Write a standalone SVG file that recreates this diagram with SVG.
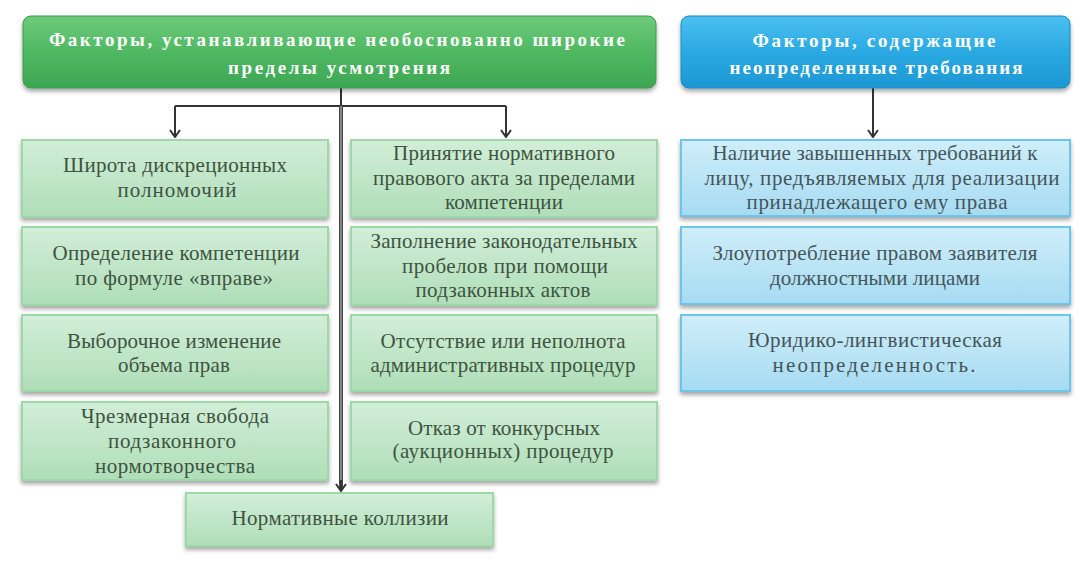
<svg xmlns="http://www.w3.org/2000/svg" width="1091" height="568" viewBox="0 0 1091 568">
<defs>
  <linearGradient id="gHead" x1="0" y1="0" x2="0" y2="1">
    <stop offset="0" stop-color="#6ccb79"/>
    <stop offset="0.5" stop-color="#4fb862"/>
    <stop offset="1" stop-color="#3da653"/>
  </linearGradient>
  <linearGradient id="bHead" x1="0" y1="0" x2="0" y2="1">
    <stop offset="0" stop-color="#4cc0f0"/>
    <stop offset="0.5" stop-color="#2aa9e2"/>
    <stop offset="1" stop-color="#1c97d3"/>
  </linearGradient>
  <linearGradient id="gBox" x1="0" y1="0" x2="0" y2="1">
    <stop offset="0" stop-color="#d2eed8"/>
    <stop offset="1" stop-color="#afdeb8"/>
  </linearGradient>
  <linearGradient id="bBox" x1="0" y1="0" x2="0" y2="1">
    <stop offset="0" stop-color="#d0eefa"/>
    <stop offset="1" stop-color="#a6dbf2"/>
  </linearGradient>
  <filter id="sh" x="-5%" y="-10%" width="110%" height="130%">
    <feGaussianBlur in="SourceAlpha" stdDeviation="2"/>
    <feOffset dx="0" dy="3"/>
    <feComponentTransfer><feFuncA type="linear" slope="0.35"/></feComponentTransfer>
    <feMerge><feMergeNode/><feMergeNode in="SourceGraphic"/></feMerge>
  </filter>
  <marker id="arrD" viewBox="0 0 12 12" refX="6" refY="11" markerWidth="12" markerHeight="12" markerUnits="userSpaceOnUse" orient="0">
    <path d="M1,4 L6,11 L11,4" fill="none" stroke="#333" stroke-width="2"/>
  </marker>
</defs>
<style>
  .hdrG { fill: url(#gHead); stroke: #3c9a4e; stroke-width: 1; filter: url(#sh); }
  .hdrB { fill: url(#bHead); stroke: #1b8cc4; stroke-width: 1; filter: url(#sh); }
  .boxG { fill: url(#gBox); stroke: #9dd8a7; stroke-width: 2; filter: url(#sh); }
  .boxB { fill: url(#bBox); stroke: #6cc6ec; stroke-width: 2; filter: url(#sh); }
  .conn { fill: none; stroke: #333; stroke-width: 2; }
</style>
<rect width="1091" height="568" fill="#ffffff"/>

<g id="connectors">
  <path class="conn" d="M341,88 V106"/>
  <path class="conn" d="M175,106 H506"/>
  <path class="conn" d="M175,106 V137" marker-end="url(#arrD)"/>
  <path class="conn" d="M506,106 V137" marker-end="url(#arrD)"/>
  <path d="M341,106 V489" fill="none" stroke="#444" stroke-width="4"/>
  <path d="M341,106 V486" fill="none" stroke="#9a9a9a" stroke-width="1.5"/>
  <path class="conn" d="M341,480 V491" marker-end="url(#arrD)"/>
  <path class="conn" d="M873,88 V137" marker-end="url(#arrD)"/>
</g>

<g id="header-green">
  <rect class="hdrG" x="23" y="16" width="633" height="72" rx="8"/>
  <text font-family="Liberation Serif, Times New Roman, serif" font-size="19" font-weight="bold" fill="#ffffff" text-anchor="middle" x="337" y="46" textLength="576" lengthAdjust="spacing">Факторы, устанавливающие необоснованно широкие</text>
  <text font-family="Liberation Serif, Times New Roman, serif" font-size="19" font-weight="bold" fill="#ffffff" text-anchor="middle" x="339" y="74" textLength="222" lengthAdjust="spacing">пределы усмотрения</text>
</g>
<g id="header-blue">
  <rect class="hdrB" x="681" y="16" width="389" height="72" rx="8"/>
  <text font-family="Liberation Serif, Times New Roman, serif" font-size="19" font-weight="bold" fill="#ffffff" text-anchor="middle" x="874" y="47" textLength="243" lengthAdjust="spacing">Факторы, содержащие</text>
  <text font-family="Liberation Serif, Times New Roman, serif" font-size="19" font-weight="bold" fill="#ffffff" text-anchor="middle" x="876" y="74" textLength="293" lengthAdjust="spacing">неопределенные требования</text>
</g>

<g id="g-l1">
  <rect class="boxG" x="22" y="140" width="306" height="77"/>
  <text font-family="Liberation Serif, Times New Roman, serif" font-size="21" fill="#3d533f" text-anchor="middle" x="175" y="172" textLength="224" lengthAdjust="spacing">Широта дискреционных</text>
  <text font-family="Liberation Serif, Times New Roman, serif" font-size="21" fill="#3d533f" text-anchor="middle" x="177" y="197" textLength="119" lengthAdjust="spacing">полномочий</text>
</g>
<g id="g-l2">
  <rect class="boxG" x="22" y="227" width="306" height="78"/>
  <text font-family="Liberation Serif, Times New Roman, serif" font-size="21" fill="#3d533f" text-anchor="middle" x="176" y="260" textLength="247" lengthAdjust="spacing">Определение компетенции</text>
  <text font-family="Liberation Serif, Times New Roman, serif" font-size="21" fill="#3d533f" text-anchor="middle" x="174" y="285" textLength="198" lengthAdjust="spacing">по формуле «вправе»</text>
</g>
<g id="g-l3">
  <rect class="boxG" x="22" y="315" width="306" height="76"/>
  <text font-family="Liberation Serif, Times New Roman, serif" font-size="21" fill="#3d533f" text-anchor="middle" x="174" y="348" textLength="214" lengthAdjust="spacing">Выборочное изменение</text>
  <text font-family="Liberation Serif, Times New Roman, serif" font-size="21" fill="#3d533f" text-anchor="middle" x="174" y="372" textLength="112" lengthAdjust="spacing">объема прав</text>
</g>
<g id="g-l4">
  <rect class="boxG" x="22" y="402" width="306" height="78"/>
  <text font-family="Liberation Serif, Times New Roman, serif" font-size="21" fill="#3d533f" text-anchor="middle" x="175" y="423" textLength="188" lengthAdjust="spacing">Чрезмерная свобода</text>
  <text font-family="Liberation Serif, Times New Roman, serif" font-size="21" fill="#3d533f" text-anchor="middle" x="172" y="448" textLength="128" lengthAdjust="spacing">подзаконного</text>
  <text font-family="Liberation Serif, Times New Roman, serif" font-size="21" fill="#3d533f" text-anchor="middle" x="175" y="473" textLength="160" lengthAdjust="spacing">нормотворчества</text>
</g>

<g id="g-r1">
  <rect class="boxG" x="351" y="140" width="306" height="77"/>
  <text font-family="Liberation Serif, Times New Roman, serif" font-size="21" fill="#3d533f" text-anchor="middle" x="504" y="160" textLength="222" lengthAdjust="spacing">Принятие нормативного</text>
  <text font-family="Liberation Serif, Times New Roman, serif" font-size="21" fill="#3d533f" text-anchor="middle" x="504" y="185" textLength="262" lengthAdjust="spacing">правового акта за пределами</text>
  <text font-family="Liberation Serif, Times New Roman, serif" font-size="21" fill="#3d533f" text-anchor="middle" x="504" y="209" textLength="118" lengthAdjust="spacing">компетенции</text>
</g>
<g id="g-r2">
  <rect class="boxG" x="351" y="227" width="306" height="78"/>
  <text font-family="Liberation Serif, Times New Roman, serif" font-size="21" fill="#3d533f" text-anchor="middle" x="504" y="248" textLength="267" lengthAdjust="spacing">Заполнение законодательных</text>
  <text font-family="Liberation Serif, Times New Roman, serif" font-size="21" fill="#3d533f" text-anchor="middle" x="505" y="273" textLength="206" lengthAdjust="spacing">пробелов при помощи</text>
  <text font-family="Liberation Serif, Times New Roman, serif" font-size="21" fill="#3d533f" text-anchor="middle" x="503" y="297" textLength="175" lengthAdjust="spacing">подзаконных актов</text>
</g>
<g id="g-r3">
  <rect class="boxG" x="351" y="315" width="306" height="76"/>
  <text font-family="Liberation Serif, Times New Roman, serif" font-size="21" fill="#3d533f" text-anchor="middle" x="503" y="348" textLength="245" lengthAdjust="spacing">Отсутствие или неполнота</text>
  <text font-family="Liberation Serif, Times New Roman, serif" font-size="21" fill="#3d533f" text-anchor="middle" x="503" y="372" textLength="265" lengthAdjust="spacing">административных процедур</text>
</g>
<g id="g-r4">
  <rect class="boxG" x="351" y="402" width="306" height="78"/>
  <text font-family="Liberation Serif, Times New Roman, serif" font-size="21" fill="#3d533f" text-anchor="middle" x="504" y="435" textLength="192" lengthAdjust="spacing">Отказ от конкурсных</text>
  <text font-family="Liberation Serif, Times New Roman, serif" font-size="21" fill="#3d533f" text-anchor="middle" x="503" y="458" textLength="221" lengthAdjust="spacing">(аукционных) процедур</text>
</g>

<g id="g-bottom">
  <rect class="boxG" x="186" y="493" width="307" height="53"/>
  <text font-family="Liberation Serif, Times New Roman, serif" font-size="21" fill="#3d533f" text-anchor="middle" x="340" y="525" textLength="217" lengthAdjust="spacing">Нормативные коллизии</text>
</g>

<g id="b-1">
  <rect class="boxB" x="681" y="140" width="389" height="76"/>
  <text font-family="Liberation Serif, Times New Roman, serif" font-size="21" fill="#44555a" text-anchor="middle" x="875" y="160" textLength="325" lengthAdjust="spacing">Наличие завышенных требований к</text>
  <text font-family="Liberation Serif, Times New Roman, serif" font-size="21" fill="#44555a" text-anchor="middle" x="882" y="185" textLength="355" lengthAdjust="spacing">лицу, предъявляемых для реализации</text>
  <text font-family="Liberation Serif, Times New Roman, serif" font-size="21" fill="#44555a" text-anchor="middle" x="877" y="209" textLength="261" lengthAdjust="spacing">принадлежащего ему права</text>
</g>
<g id="b-2">
  <rect class="boxB" x="681" y="227" width="389" height="77"/>
  <text font-family="Liberation Serif, Times New Roman, serif" font-size="21" fill="#44555a" text-anchor="middle" x="875" y="260" textLength="325" lengthAdjust="spacing">Злоупотребление правом заявителя</text>
  <text font-family="Liberation Serif, Times New Roman, serif" font-size="21" fill="#44555a" text-anchor="middle" x="875" y="285" textLength="210" lengthAdjust="spacing">должностными лицами</text>
</g>
<g id="b-3">
  <rect class="boxB" x="681" y="315" width="389" height="76"/>
  <text font-family="Liberation Serif, Times New Roman, serif" font-size="21" fill="#44555a" text-anchor="middle" x="875" y="347" textLength="254" lengthAdjust="spacing">Юридико-лингвистическая</text>
  <text font-family="Liberation Serif, Times New Roman, serif" font-size="21" fill="#44555a" text-anchor="middle" x="874" y="372" textLength="203" lengthAdjust="spacing">неопределенность.</text>
</g>
</svg>
